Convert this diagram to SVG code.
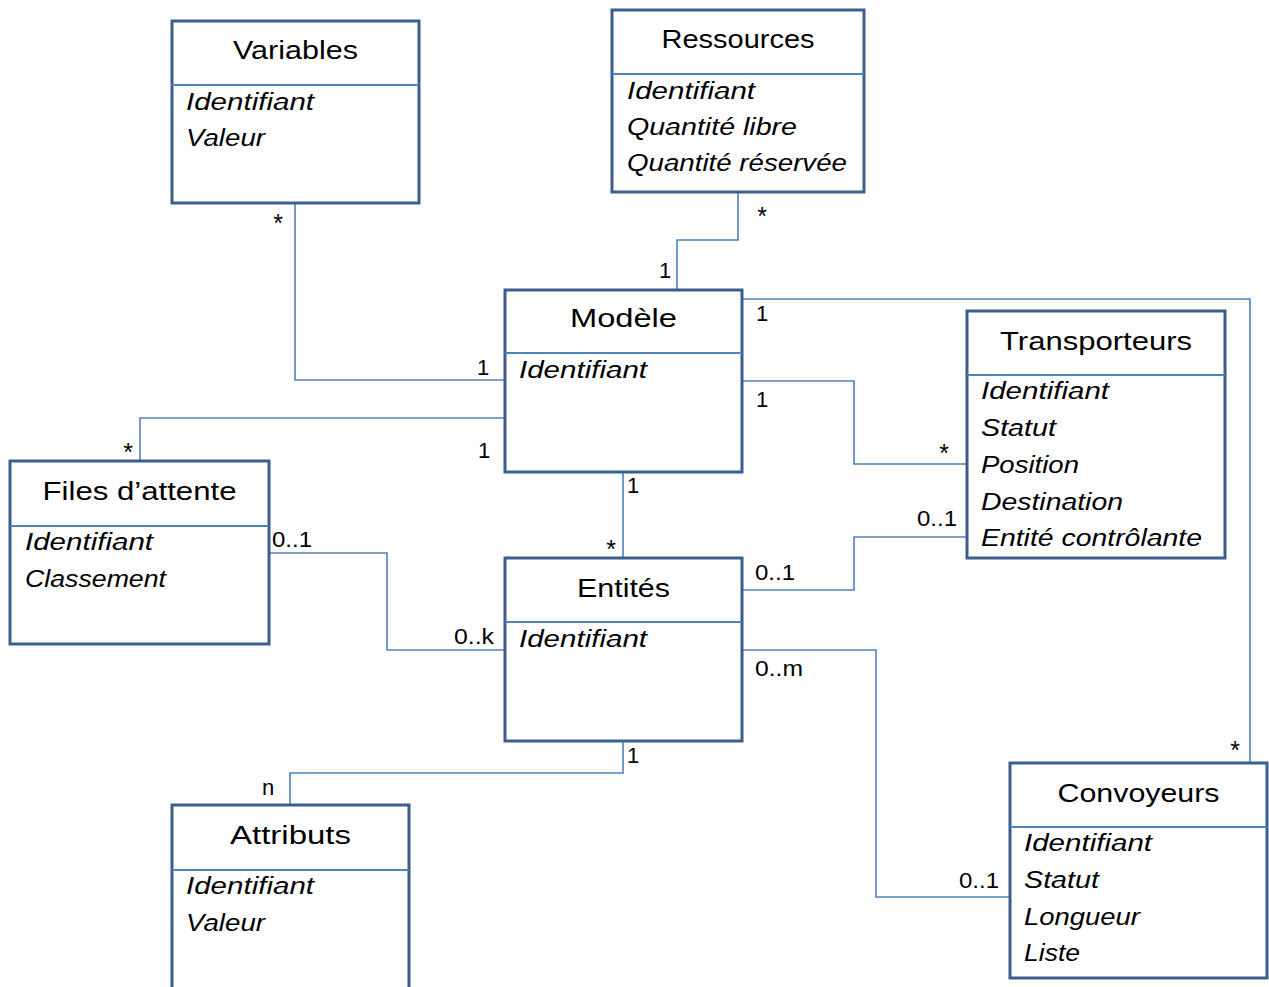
<svg xmlns="http://www.w3.org/2000/svg" width="1269" height="987" viewBox="0 0 1269 987">
<style>
.box{fill:#fff;stroke:#3B5E8C;stroke-width:3}
.div{stroke:#4F81BD;stroke-width:2}
.con{fill:none;stroke:#4F81BD;stroke-width:1.6}
.t{font-family:"Liberation Sans",Arial,sans-serif;font-size:26px;fill:#000;text-anchor:middle}
.a{font-family:"Liberation Sans",Arial,sans-serif;font-size:24.5px;font-style:italic;fill:#000}
.l{font-family:"Liberation Sans",Arial,sans-serif;font-size:22px;fill:#000}
.s{font-size:25px}
.m{text-anchor:middle}
</style>
<rect width="1269" height="987" fill="#fff"/>
<g id="connectors">
<polyline class="con" points="295,203 295,380 505,380"/>
<polyline class="con" points="738,192 738,240 677,240 677,290"/>
<polyline class="con" points="505,418 140,418 140,461"/>
<polyline class="con" points="623,472 623,558"/>
<polyline class="con" points="742,381 854,381 854,464 967,464"/>
<polyline class="con" points="742,299 1250,299 1250,763"/>
<polyline class="con" points="742,590 854,590 854,537 967,537"/>
<polyline class="con" points="269,553 387,553 387,650 505,650"/>
<polyline class="con" points="742,650 876,650 876,897 1010,897"/>
<polyline class="con" points="623,741 623,773 290,773 290,805"/>
<g id="labels">
<text class="l s m" x="278" y="232">*</text>
<text class="l m" x="483" y="375">1</text>
<text class="l s m" x="762" y="225">*</text>
<text class="l m" x="665" y="278">1</text>
<text class="l s m" x="128" y="461">*</text>
<text class="l m" x="484" y="458">1</text>
<text class="l m" x="633" y="493">1</text>
<text class="l s m" x="611" y="558">*</text>
<text class="l m" x="762" y="321">1</text>
<text class="l m" x="762" y="407">1</text>
<text class="l s m" x="944" y="462">*</text>
<text class="l" x="917" y="526" textLength="40" lengthAdjust="spacingAndGlyphs">0..1</text>
<text class="l" x="755" y="580" textLength="40" lengthAdjust="spacingAndGlyphs">0..1</text>
<text class="l" x="272" y="547" textLength="40" lengthAdjust="spacingAndGlyphs">0..1</text>
<text class="l" x="454" y="644" textLength="40" lengthAdjust="spacingAndGlyphs">0..k</text>
<text class="l" x="755" y="676" textLength="48" lengthAdjust="spacingAndGlyphs">0..m</text>
<text class="l" x="959" y="888" textLength="40" lengthAdjust="spacingAndGlyphs">0..1</text>
<text class="l s m" x="1235" y="759">*</text>
<text class="l m" x="633" y="763">1</text>
<text class="l m" x="268" y="795">n</text>
</g>
</g>
<g id="variables">
<rect class="box" x="172" y="21" width="247" height="182"/>
<line class="div" x1="172" y1="85" x2="419" y2="85"/>
<text class="t" x="295.5" y="59" textLength="125" lengthAdjust="spacingAndGlyphs">Variables</text>
<text class="a" x="186" y="110" textLength="128" lengthAdjust="spacingAndGlyphs">Identifiant</text>
<text class="a" x="186" y="146" textLength="79" lengthAdjust="spacingAndGlyphs">Valeur</text>
</g>
<g id="ressources">
<rect class="box" x="612" y="10" width="252" height="182"/>
<line class="div" x1="612" y1="74" x2="864" y2="74"/>
<text class="t" x="738" y="48" textLength="153" lengthAdjust="spacingAndGlyphs">Ressources</text>
<text class="a" x="627" y="99" textLength="128" lengthAdjust="spacingAndGlyphs">Identifiant</text>
<text class="a" x="627" y="135" textLength="170" lengthAdjust="spacingAndGlyphs">Quantité libre</text>
<text class="a" x="627" y="171" textLength="220" lengthAdjust="spacingAndGlyphs">Quantité réservée</text>
</g>
<g id="modele">
<rect class="box" x="505" y="290" width="237" height="182"/>
<line class="div" x1="505" y1="353" x2="742" y2="353"/>
<text class="t" x="623.5" y="327" textLength="107" lengthAdjust="spacingAndGlyphs">Modèle</text>
<text class="a" x="519" y="378" textLength="128" lengthAdjust="spacingAndGlyphs">Identifiant</text>
</g>
<g id="transporteurs">
<rect class="box" x="967" y="311" width="258" height="247"/>
<line class="div" x1="967" y1="375" x2="1225" y2="375"/>
<text class="t" x="1096" y="350" textLength="192" lengthAdjust="spacingAndGlyphs">Transporteurs</text>
<text class="a" x="981" y="399" textLength="128" lengthAdjust="spacingAndGlyphs">Identifiant</text>
<text class="a" x="981" y="436" textLength="75" lengthAdjust="spacingAndGlyphs">Statut</text>
<text class="a" x="981" y="473" textLength="98" lengthAdjust="spacingAndGlyphs">Position</text>
<text class="a" x="981" y="510" textLength="142" lengthAdjust="spacingAndGlyphs">Destination</text>
<text class="a" x="981" y="546" textLength="221" lengthAdjust="spacingAndGlyphs">Entité contrôlante</text>
</g>
<g id="files">
<rect class="box" x="10" y="461" width="259" height="183"/>
<line class="div" x1="10" y1="526" x2="269" y2="526"/>
<text class="t" x="139.5" y="500" textLength="194" lengthAdjust="spacingAndGlyphs">Files d’attente</text>
<text class="a" x="25" y="550" textLength="128" lengthAdjust="spacingAndGlyphs">Identifiant</text>
<text class="a" x="25" y="587" textLength="141" lengthAdjust="spacingAndGlyphs">Classement</text>
</g>
<g id="entites">
<rect class="box" x="505" y="558" width="237" height="183"/>
<line class="div" x1="505" y1="622" x2="742" y2="622"/>
<text class="t" x="623.5" y="597" textLength="93" lengthAdjust="spacingAndGlyphs">Entités</text>
<text class="a" x="519" y="647" textLength="128" lengthAdjust="spacingAndGlyphs">Identifiant</text>
</g>
<g id="attributs">
<rect class="box" x="172" y="805" width="237" height="200"/>
<line class="div" x1="172" y1="870" x2="409" y2="870"/>
<text class="t" x="290.5" y="844" textLength="121" lengthAdjust="spacingAndGlyphs">Attributs</text>
<text class="a" x="186" y="894" textLength="128" lengthAdjust="spacingAndGlyphs">Identifiant</text>
<text class="a" x="186" y="931" textLength="79" lengthAdjust="spacingAndGlyphs">Valeur</text>
</g>
<g id="convoyeurs">
<rect class="box" x="1010" y="763" width="257" height="215"/>
<line class="div" x1="1010" y1="827" x2="1267" y2="827"/>
<text class="t" x="1138.5" y="802" textLength="162" lengthAdjust="spacingAndGlyphs">Convoyeurs</text>
<text class="a" x="1024" y="851" textLength="128" lengthAdjust="spacingAndGlyphs">Identifiant</text>
<text class="a" x="1024" y="888" textLength="75" lengthAdjust="spacingAndGlyphs">Statut</text>
<text class="a" x="1024" y="925" textLength="116" lengthAdjust="spacingAndGlyphs">Longueur</text>
<text class="a" x="1024" y="961" textLength="56" lengthAdjust="spacingAndGlyphs">Liste</text>
</g>
</svg>
